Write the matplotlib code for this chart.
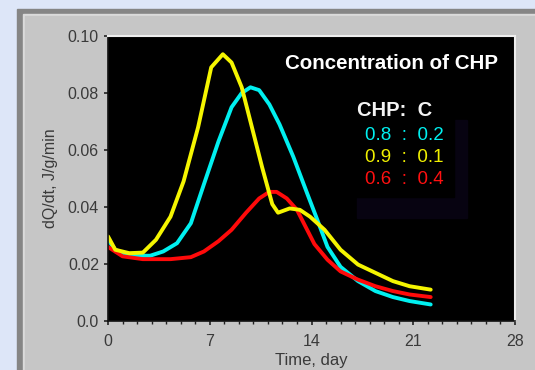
import matplotlib
matplotlib.use("Agg")
import matplotlib.pyplot as plt
from matplotlib.patches import Rectangle

cyan_x = [0, 0.5, 1.5, 2.9, 3.8, 4.75, 5.7, 6.6, 7.6, 8.5, 9.2, 9.8, 10.4, 11.1, 11.8,
          12.75, 13.7, 14.4, 15.1, 16.0, 17.2, 18.4, 19.6, 20.75, 22.2]
cyan_y = [0.0285, 0.025, 0.0229, 0.0229, 0.0244, 0.0273, 0.0343, 0.048, 0.063, 0.075, 0.080,
          0.082, 0.081, 0.076, 0.069, 0.0576, 0.0448, 0.0355, 0.026, 0.019, 0.014, 0.0105,
          0.0084, 0.007, 0.0058]
yellow_x = [0, 0.5, 1.46, 2.4, 3.3, 4.3, 5.2, 6.2, 7.1, 7.9, 8.5, 9.2, 9.9, 10.6, 11.3,
            11.7, 12.5, 13.2, 13.9, 14.9, 16.0, 17.2, 18.4, 19.6, 20.75, 22.2]
yellow_y = [0.0297, 0.025, 0.0238, 0.024, 0.0285, 0.0366, 0.049, 0.068, 0.089, 0.0936, 0.0907,
            0.082, 0.068, 0.054, 0.041, 0.038, 0.0395, 0.039, 0.0366, 0.032, 0.025, 0.0198,
            0.0169, 0.014, 0.0122, 0.011]
red_x = [0, 1.0, 2.4, 4.3, 5.7, 6.6, 7.6, 8.5, 9.5, 10.4, 11.1, 11.6, 12.3, 13.0, 13.6,
         14.2, 15.1, 16.0, 17.2, 18.4, 19.6, 20.75, 22.2]
red_y = [0.026, 0.0227, 0.0217, 0.0217, 0.0224, 0.0244, 0.028, 0.032, 0.038, 0.043, 0.0453,
         0.0453, 0.043, 0.039, 0.033, 0.027, 0.0215, 0.0174, 0.0145, 0.0122, 0.0105, 0.0093,
         0.0084]

legend_rows = [("0.8  :  0.2", "#00f0f0"), ("0.9  :  0.1", "#f0f000"), ("0.6  :  0.4", "#ff1010")]

W, H = 535, 370
fig = plt.figure(figsize=(W / 100, H / 100), dpi=100, facecolor="#dde6f8")
plt.rcParams["font.family"] = ["Liberation Sans", "DejaVu Sans"]

def box(x0, y0, x1, y1, color):
    fig.patches.append(Rectangle((x0 / W, 1 - y1 / H), (x1 - x0) / W, (y1 - y0) / H,
                                 transform=fig.transFigure, color=color, zorder=-5))

# grey panel with bevel
box(17, 9, W, H, "#858585")
box(23, 14, W, H, "#dadada")
box(25, 16, W, H, "#c6c6c6")

ax = fig.add_axes([108 / W, 1 - 321 / H, (515 - 108) / W, (321 - 36) / H])
ax.set_facecolor("black")
ax.plot(cyan_x, cyan_y, color="#00f0f0", lw=2.8, solid_capstyle="round", solid_joinstyle="round")
ax.plot(red_x, red_y, color="#ff0a0a", lw=2.8, solid_capstyle="round", solid_joinstyle="round")
ax.plot(yellow_x, yellow_y, color="#f5f500", lw=2.8, solid_capstyle="round", solid_joinstyle="round")

ax.set_xlim(0, 28)
ax.set_ylim(0, 0.10)
ax.set_xticks([0, 7, 14, 21, 28])
ax.set_xticks(range(29), minor=True)
ax.set_yticks([0.0, 0.02, 0.04, 0.06, 0.08, 0.10])
ax.set_yticklabels(["0.0", "0.02", "0.04", "0.06", "0.08", "0.10"])
ax.tick_params(axis="both", which="major", length=3, width=1.2, colors="#222222",
               labelcolor="#3a3a3a", labelsize=11.5)
ax.tick_params(axis="x", which="major", pad=6)
ax.tick_params(axis="x", which="minor", length=2, width=1, color="#222222")
for s in ["left", "bottom"]:
    ax.spines[s].set_color("#111111")
    ax.spines[s].set_linewidth(1.2)
for s in ["top", "right"]:
    ax.spines[s].set_color("#eeeeee")
    ax.spines[s].set_linewidth(1.5)

ax.set_xlabel("Time, day", fontsize=12, color="#3a3a3a", labelpad=3)
ax.set_ylabel("dQ/dt, J/g/min", fontsize=11.5, color="#3a3a3a", labelpad=7)

# legend box with faint shadow
ax.add_patch(Rectangle((0.612, 0.361), 0.27, 0.344, transform=ax.transAxes,
                       color="#070311", zorder=1))
ax.add_patch(Rectangle((0.58, 0.435), 0.27, 0.36, transform=ax.transAxes,
                       color="black", zorder=1.5))

ax.text(0.958, 0.905, "Concentration of CHP", transform=ax.transAxes, ha="right",
        va="center", color="white", fontsize=14.8, fontweight="bold", zorder=3)
ax.text(0.612, 0.74, "CHP:  C", transform=ax.transAxes, ha="left", va="center",
        color="#f4f4f4", fontsize=14.5, fontweight="bold", zorder=3)
for i, (lab, col) in enumerate(legend_rows):
    ax.text(0.631, 0.65 - i * 0.077, lab, transform=ax.transAxes, ha="left", va="center",
            color=col, fontsize=13.5, zorder=3)

fig.savefig("out.png", dpi=100, facecolor=fig.get_facecolor())
